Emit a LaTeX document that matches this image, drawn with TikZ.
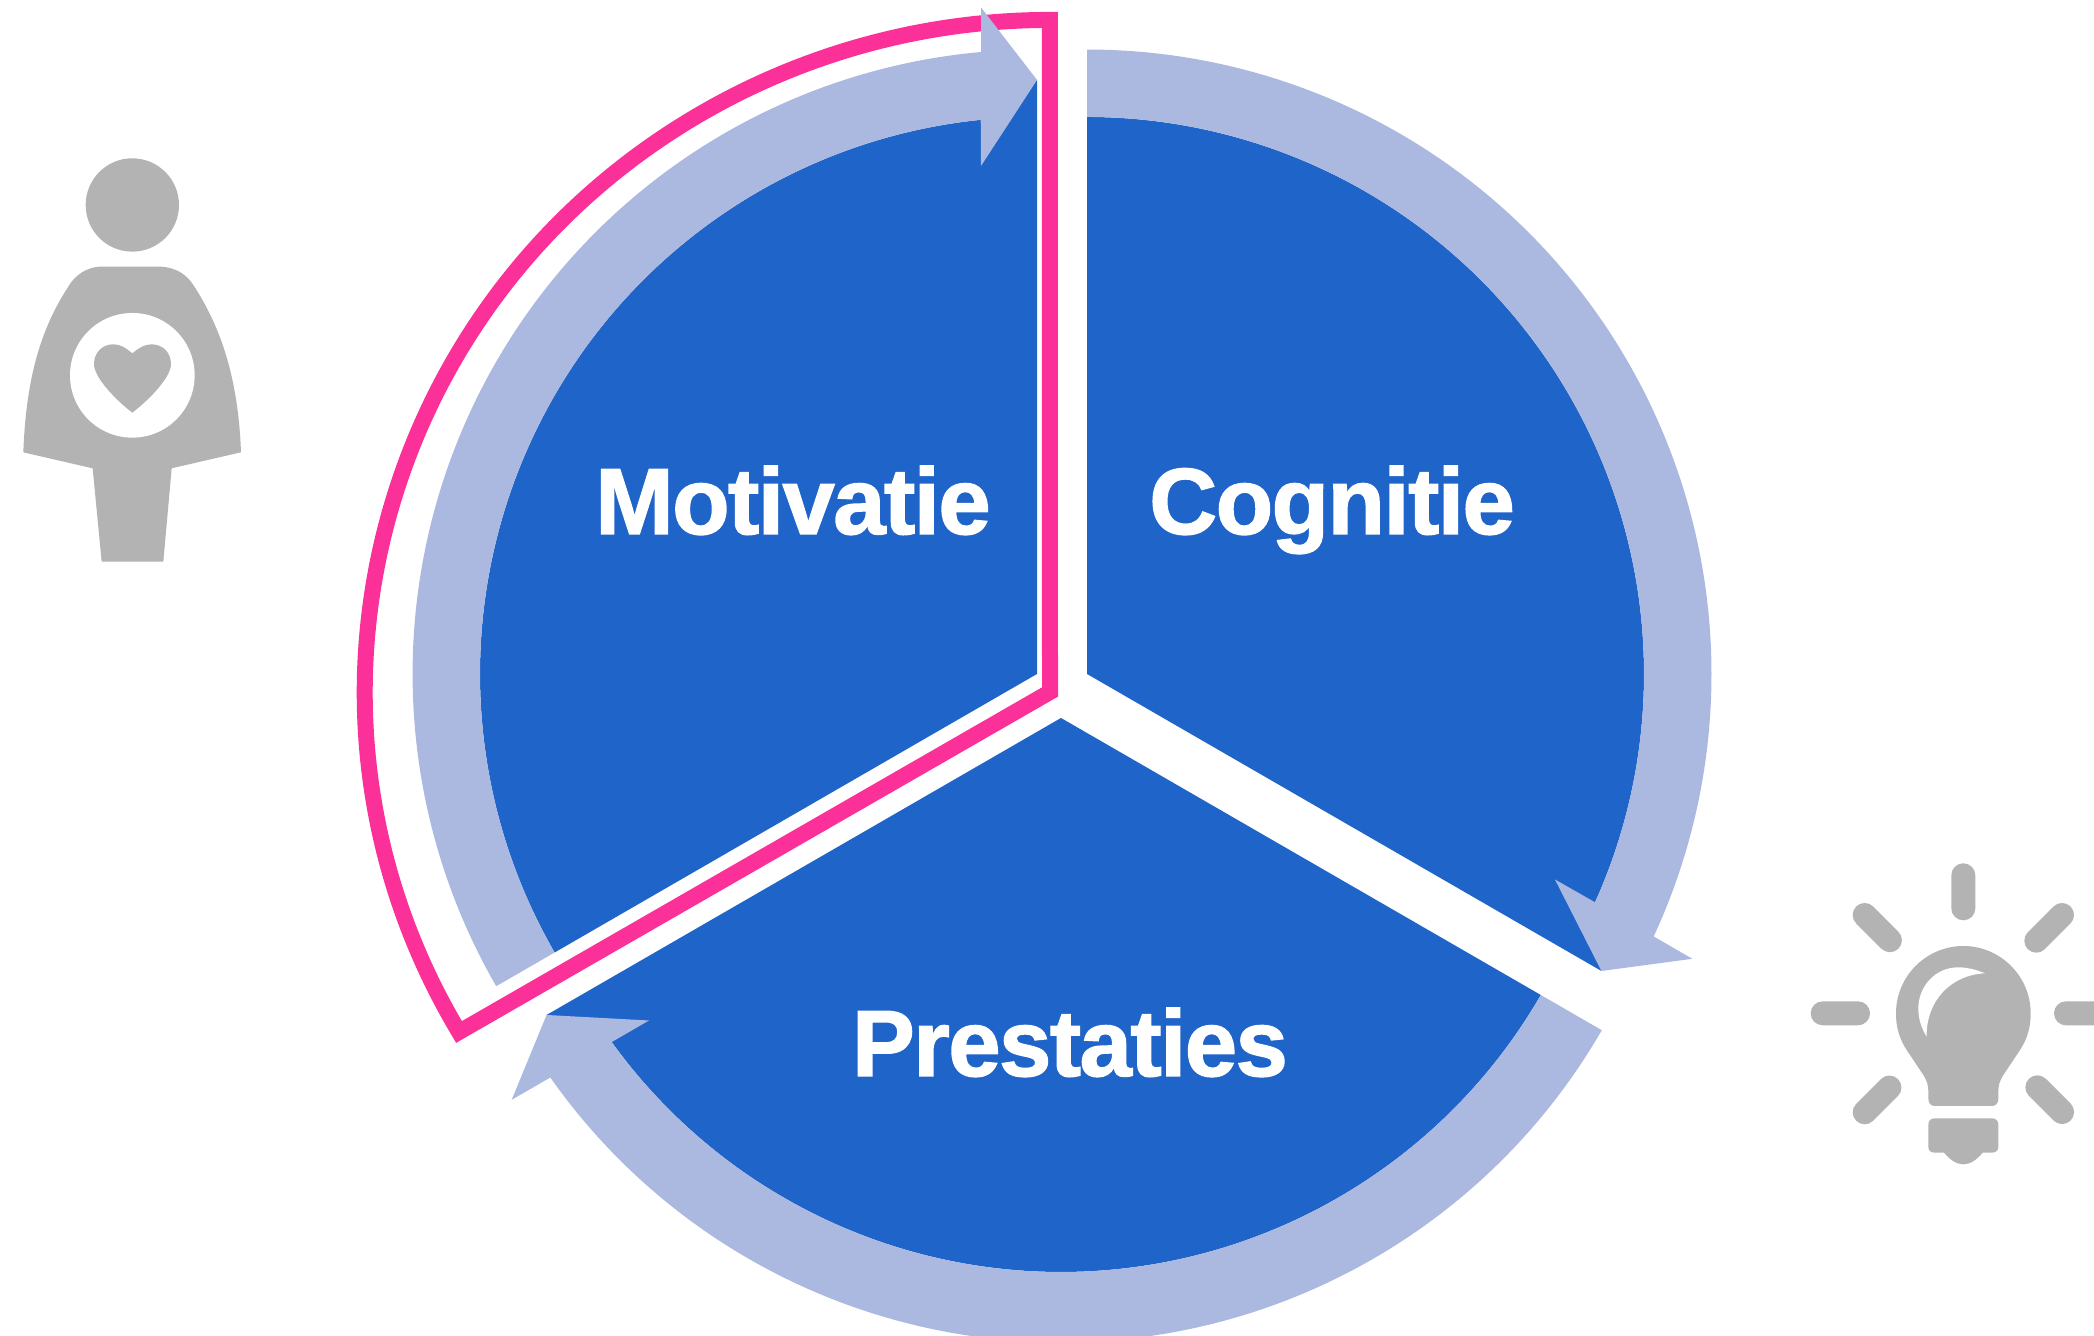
\documentclass[tikz,border=0pt]{standalone}
\usepackage{fontspec}
\setmainfont{Liberation Sans}[BoldFeatures={FakeBold=1.5,LetterSpace=-1.6}]
\definecolor{sectorblue}{HTML}{1F64C8}
\definecolor{bandblue}{HTML}{ABB9E0}
\definecolor{outlinepink}{HTML}{FB3199}
\definecolor{icongray}{HTML}{B3B3B3}
\tikzset{
  sectorfill/.style={fill=sectorblue},
  bandfill/.style={fill=bandblue},
  labeltext/.style={text=white,font=\fontsize{47}{52}\selectfont\bfseries,anchor=base,inner sep=0pt},
  iconfill/.style={fill=icongray},
  iconcut/.style={fill=white},
  pinkoutline/.style={draw=outlinepink,line width=8pt,miter limit=20},
}
% #1 centre x, #2 centre y (up), #3 angle of the arrow tip, #4 inner radius
\newcommand{\cyclesector}[4]{%
  \begin{scope}[shift={(#1,#2)},rotate=#3]
    \fill[sectorfill] (0,0) -- (594,0) -- (5.8:#4) arc[start angle=5.8,end angle=120,radius=#4] -- cycle;
    \fill[bandfill] (622,56) arc[start angle=5.15,end angle=120,radius=624.5] -- (120:#4)
      arc[start angle=120,end angle=5.8,radius=#4] -- (508,56) -- (594,0) -- (666.6,56) -- cycle;
  \end{scope}}
% #1,#2 start of a ray, #3 direction, #4 length (icon grid)
\newcommand{\bulbray}[4]{%
  \begin{scope}[shift={(#1,#2)},rotate=#3]
    \fill[iconfill] (0,-36) -- (#4,-36) arc[start angle=-90,end angle=90,radius=36]
      -- (0,36) arc[start angle=90,end angle=270,radius=36] -- cycle;
  \end{scope}}
\begin{document}
\begin{tikzpicture}[x=0.5pt,y=0.5pt]
\clip (0,0) rectangle (2094,1336);
\fill[white] (0,0) rectangle (2094,1336);
% pink outline
\draw[pinkoutline] (1050,644) -- (459,304)
  arc[start angle=210.4,end angle=90,x radius=685,y radius=672] -- cycle;
% sectors
\cyclesector{1037}{662}{90}{557}
\cyclesector{1087}{662}{-30}{557}
\cyclesector{1061}{618}{210}{554}
% labels
\node[labeltext] (motivatie) at (793,802) {Motivatie};
\node[labeltext] (cognitie) at (1332,802) {Cognitie};
\node[labeltext] (prestaties) at (1070,260) {Prestaties};
% woman icon, coordinates of the icon in a 3x grid
\begin{scope}[shift={(0,1196)},xscale=1/3,yscale=-1/3]
  \fill[iconfill] (397,195) circle[radius=140];
  \fill[iconfill] (300,380) -- (480,380) .. controls (530,382) and (560,405) .. (580,435)
    .. controls (665,565) and (715,720) .. (723,937)
    -- (515,985) -- (490,1265) -- (305,1265) -- (278,985) -- (70,937)
    .. controls (78,720) and (120,570) .. (205,440)
    .. controls (225,405) and (260,382) .. (300,380) -- cycle;
  \fill[iconcut] (397,706) circle[radius=187];
  \fill[iconfill] (397,640) .. controls (375,622) and (360,613) .. (340,613)
    .. controls (305,613) and (282,640) .. (282,672)
    .. controls (282,712) and (345,778) .. (397,818)
    .. controls (449,778) and (513,712) .. (513,672)
    .. controls (513,640) and (490,613) .. (455,613)
    .. controls (435,613) and (419,622) .. (397,640) -- cycle;
\end{scope}
% light bulb icon, coordinates of the icon in a 3x grid
\begin{scope}[shift={(1790,486)},xscale=1/3,yscale=-1/3]
  \bulbray{520}{76}{90}{99}
  \bulbray{98}{490}{0}{106}
  \bulbray{828}{490}{0}{132}
  \bulbray{224}{195}{45}{107}
  \bulbray{816}{195}{135}{109}
  \bulbray{224}{787}{-45}{105}
  \bulbray{742}{712}{45}{105}
  \fill[iconfill] (520,288)
    .. controls (630,288) and (722,378) .. (722,490)
    .. controls (722,545) and (705,580) .. (680,615)
    -- (640,675) .. controls (628,695) and (625,705) .. (625,725)
    -- (625,745) .. controls (625,760) and (618,768) .. (605,768)
    -- (435,768) .. controls (422,768) and (415,760) .. (415,745)
    -- (415,725) .. controls (415,705) and (412,695) .. (400,675)
    -- (360,615) .. controls (335,580) and (318,545) .. (318,490)
    .. controls (318,378) and (410,288) .. (520,288) -- cycle;
  \fill[iconcut] (585,370)
    .. controls (555,357) and (525,352) .. (505,352)
    .. controls (435,352) and (385,410) .. (385,475)
    .. controls (385,510) and (395,535) .. (410,560)
    .. controls (408,455) and (480,375) .. (585,370) -- cycle;
  \fill[iconfill] (435,805) -- (605,805) .. controls (618,805) and (625,812) .. (625,825)
    -- (625,890) .. controls (625,902) and (618,908) .. (605,908)
    -- (578,908) .. controls (560,930) and (540,943) .. (520,943)
    .. controls (500,943) and (480,930) .. (462,908)
    -- (435,908) .. controls (422,908) and (415,902) .. (415,890)
    -- (415,825) .. controls (415,812) and (422,805) .. (435,805) -- cycle;
\end{scope}
\end{tikzpicture}
\end{document}
